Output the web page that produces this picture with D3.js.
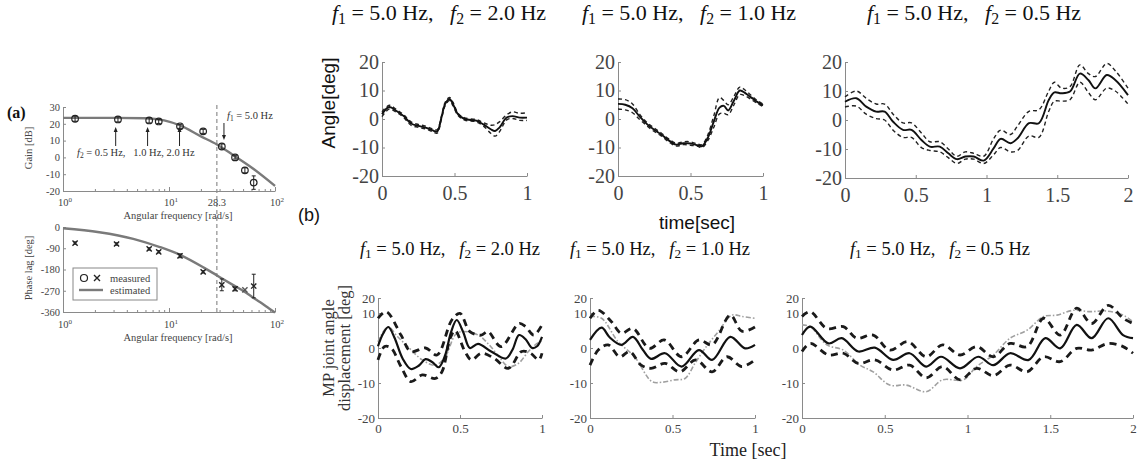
<!DOCTYPE html>
<html>
<head>
<meta charset="utf-8">
<script src="https://cdn.jsdelivr.net/npm/d3@7"></script>
<style>
  body { margin: 0; background: #fff; }
  svg { display: block; }
</style>
</head>
<body>
<svg id="fig" width="1140" height="461"></svg>
<script>
// ---------- panel (a) : Bode plots ----------
var gainW   = [1.3, 3.3, 6.5, 8.0, 12.7, 21, 31.5, 42, 52, 63];
var gainDb  = [23, 22.6, 22, 21.4, 18.5, 15.5, 6.5, 0, -7.7, -15];
var gainErr = [1.5, 1.5, 1.5, 1.2, 1.2, 1.2, 1.5, 1, 1.5, 4];
var estGainW  = [1, 3, 6, 9, 12.7, 20, 28.3, 40, 60, 100];
var estGainDb = [23.5, 23.5, 23.3, 22, 19, 12.5, 7.7, 1.5, -6, -17];

var phaseW   = [1.3, 3.2, 6.5, 8.0, 12.7, 21, 31.5, 42, 52, 63];
var phaseDeg = [-68, -72, -93, -105, -122, -190, -245, -262, -266, -250];
var phaseErr = [5, 5, 5, 5, 8, 5, 25, 8, 0, 50];
var estPhaseW   = [1, 2.2, 4.6, 8.2, 12.7, 21.3, 28.3, 40, 52, 65, 75, 88, 100];
var estPhaseDeg = [-5, -22, -50, -85, -118, -172, -205, -245, -275, -305, -323, -345, -362];

var gainTicks  = [-20, -10, 0, 10, 20, 30];
var phaseTicks = [-360, -270, -180, -90, 0];
var cutoffW = 28.3;

// ---------- panel (b) top row : Angle[deg] ----------
var tTop1   = [0, 0.05, 0.1, 0.15, 0.2, 0.25, 0.3, 0.35, 0.38, 0.41, 0.435, 0.465, 0.49, 0.525, 0.57, 0.65, 0.7, 0.75, 0.78, 0.81, 0.86, 0.9, 0.95, 1.0];
var meanTop1 = [1.7, 4.2, 2.8, 1.0, -1.6, -2.4, -3.0, -4.0, -4.4, 0.5, 5.2, 7.0, 5.2, 1.6, 0.0, -0.6, -1.9, -3.6, -4.2, -3.0, 0.5, 1.0, 0.5, 0.5];
var upTop1   = [2.5, 4.8, 3.3, 1.5, -1.0, -1.9, -2.5, -3.5, -3.8, 1.0, 5.8, 7.6, 5.8, 2.0, 0.4, -0.2, -1.3, -2.2, -2.0, -1.0, 1.5, 2.5, 2.0, 2.2];
var loTop1   = [0.8, 3.5, 2.3, 0.5, -2.2, -2.9, -3.5, -4.5, -5.0, 0.0, 4.6, 6.5, 4.6, 1.2, -0.4, -1.0, -2.5, -5.0, -6.0, -4.5, -0.3, 0.2, -0.5, -0.5];

var tTop2    = [0, 0.05, 0.1, 0.15, 0.2, 0.25, 0.3, 0.35, 0.4, 0.45, 0.5, 0.55, 0.58, 0.62, 0.66, 0.7, 0.73, 0.76, 0.8, 0.84, 0.88, 0.92, 0.96, 1.0];
var meanTop2 = [5.3, 5.0, 3.8, 0.8, -1.8, -3.8, -5.5, -7.5, -9.0, -8.5, -8.6, -9.2, -9.5, -6.5, -1.0, 4.0, 4.6, 3.0, 6.5, 10.0, 9.0, 7.5, 6.0, 4.8];
var upTop2   = [7.0, 6.8, 5.3, 1.6, -1.2, -3.2, -5.0, -7.0, -8.5, -8.0, -8.0, -8.8, -9.0, -5.5, 1.0, 7.5, 6.5, 5.0, 8.0, 11.2, 10.0, 8.2, 6.5, 5.2];
var loTop2   = [3.5, 3.2, 2.2, -0.2, -2.4, -4.4, -6.0, -8.0, -9.5, -9.0, -9.2, -9.6, -10.0, -7.5, -3.0, 1.8, 2.0, 1.5, 5.0, 8.6, 8.0, 6.8, 5.5, 4.3];

var tTop3    = [0, 0.08, 0.15, 0.22, 0.28, 0.34, 0.41, 0.47, 0.54, 0.6, 0.67, 0.73, 0.79, 0.85, 0.91, 0.98, 1.05, 1.1, 1.17, 1.22, 1.3, 1.37, 1.44, 1.48, 1.53, 1.59, 1.66, 1.72, 1.77, 1.85, 1.91, 2.0];
var meanTop3 = [6.3, 7.5, 4.6, 2.9, 2.9, -0.6, -3.4, -3.4, -6.9, -9.2, -9.2, -11.5, -13.5, -12.6, -12.6, -14.0, -9.8, -6.5, -8.0, -6.3, -1.1, -1.1, 6.9, 9.5, 9.2, 9.8, 16.0, 13.8, 10.9, 15.5, 13.8, 8.6];
var upTop3   = [8.0, 10.0, 7.5, 5.5, 5.5, 2.0, -1.0, -1.0, -4.5, -7.5, -7.5, -10.0, -12.5, -11.0, -11.5, -12.5, -6.5, -3.5, -5.0, -2.0, 3.0, 3.5, 10.0, 13.0, 11.0, 11.5, 19.0, 16.0, 15.0, 19.5, 17.0, 11.0];
var loTop3   = [4.5, 4.8, 2.0, 0.5, 0.0, -3.5, -6.0, -6.0, -9.5, -10.5, -11.0, -13.0, -15.0, -13.5, -13.5, -15.0, -12.0, -9.5, -11.0, -10.5, -5.5, -6.0, 3.0, 6.5, 6.5, 7.0, 13.0, 9.5, 7.0, 11.0, 10.0, 5.5];

// ---------- panel (b) bottom row : MP joint angle displacement ----------
var tMean4 = [0, 0.03, 0.063, 0.1, 0.15, 0.2, 0.25, 0.29, 0.33, 0.37, 0.41, 0.445, 0.48, 0.52, 0.56, 0.61, 0.69, 0.78, 0.82, 0.86, 0.9, 0.94, 0.97, 1.0];
var mean4  = [0.5, 4.0, 6.0, 3.0, -3.0, -6.0, -5.0, -3.2, -4.0, -5.5, -2.0, 4.5, 8.0, 4.5, 0.0, 1.2, -1.0, -3.0, -0.5, 3.7, 2.5, 0.0, 0.5, 3.2];
var tUp4   = [0, 0.05, 0.14, 0.2, 0.29, 0.36, 0.45, 0.5, 0.56, 0.63, 0.67, 0.75, 0.86, 0.9, 0.95, 1.0];
var up4    = [8.5, 10.9, 3.7, -1.0, 0.0, -2.0, 8.0, 9.9, 4.7, 3.7, 4.7, 0.4, 7.0, 6.1, 3.7, 6.6];
var tLo4   = [0, 0.04, 0.08, 0.14, 0.2, 0.27, 0.35, 0.39, 0.44, 0.47, 0.53, 0.57, 0.63, 0.71, 0.795, 0.876, 0.93, 0.98, 1.0];
var lo4    = [-3.4, 0.4, 0.0, -5.3, -9.6, -7.7, -8.7, -6.8, 2.8, 5.0, -1.0, -3.4, -1.5, -3.0, -5.8, -1.0, -1.5, -3.4, -1.5];
var tRef4  = [0, 0.06, 0.12, 0.19, 0.27, 0.35, 0.41, 0.47, 0.51, 0.61, 0.67, 0.73, 0.795, 0.856, 0.917, 0.97, 1.0];
var ref4   = [1.8, 6.0, 3.2, 0.0, -3.4, -4.9, -2.5, 3.7, 4.7, 3.7, 1.3, -2.0, -5.3, -4.4, -1.0, 1.3, 2.0];

var tMean5 = [0, 0.07, 0.12, 0.19, 0.26, 0.32, 0.37, 0.455, 0.555, 0.66, 0.74, 0.85, 0.94, 1.0];
var mean5  = [2.3, 5.8, 3.0, 0.9, 3.2, -0.5, -3.1, -1.5, -5.3, -0.6, -3.4, 3.2, -0.1, 0.9];
var tUp5   = [0, 0.05, 0.13, 0.19, 0.26, 0.36, 0.45, 0.555, 0.66, 0.74, 0.85, 0.92, 1.0];
var up5    = [8.5, 11.8, 7.5, 4.2, 5.6, -0.1, 2.3, -2.5, 2.3, 0.9, 9.4, 4.8, 6.0];
var tLo5   = [0, 0.05, 0.11, 0.18, 0.24, 0.31, 0.37, 0.455, 0.545, 0.64, 0.74, 0.83, 0.92, 1.0];
var lo5    = [-4.9, -0.6, 0.9, -2.5, -1.0, -4.9, -5.8, -4.4, -6.8, -3.4, -6.8, -2.5, -5.3, -3.4];
var tRef5  = [0, 0.07, 0.17, 0.27, 0.375, 0.434, 0.515, 0.576, 0.636, 0.697, 0.778, 0.86, 0.92, 1.0];
var ref5   = [9.0, 8.5, 1.8, -2.5, -9.6, -9.8, -9.1, -8.7, -4.4, -0.1, 4.7, 9.4, 9.0, 8.5];

var tMean6 = [0, 0.05, 0.16, 0.24, 0.34, 0.44, 0.55, 0.65, 0.75, 0.84, 0.955, 1.065, 1.156, 1.257, 1.37, 1.47, 1.56, 1.66, 1.75, 1.85, 1.94, 2.0];
var mean6  = [3.7, 6.1, 1.3, 2.8, -1.0, 0.1, -3.4, -1.5, -5.3, -2.5, -5.8, -2.5, -4.9, -1.5, -3.4, 2.8, -0.1, 6.6, 2.8, 8.5, 3.7, 2.8];
var tUp6   = [0, 0.05, 0.15, 0.25, 0.33, 0.43, 0.53, 0.64, 0.75, 0.85, 0.955, 1.055, 1.156, 1.257, 1.36, 1.46, 1.56, 1.66, 1.75, 1.85, 1.94, 2.0];
var up6    = [9.0, 10.9, 5.6, 6.1, 2.8, 3.7, -0.6, 1.8, -2.5, 0.9, -2.0, 0.4, -2.5, 1.3, 0.4, 8.5, 3.7, 13.2, 7.0, 15.1, 8.5, 7.0];
var tLo6   = [0, 0.05, 0.16, 0.25, 0.34, 0.44, 0.55, 0.65, 0.75, 0.85, 0.955, 1.055, 1.156, 1.257, 1.36, 1.46, 1.56, 1.66, 1.75, 1.85, 1.94, 2.0];
var lo6    = [-1.0, 1.3, -2.0, -1.5, -4.4, -3.4, -6.3, -4.9, -8.5, -5.3, -9.1, -5.8, -7.9, -4.9, -6.8, -2.5, -3.9, -0.1, -0.6, 1.3, 0.4, -1.5];
var tRef6  = [0, 0.05, 0.15, 0.25, 0.35, 0.43, 0.53, 0.63, 0.75, 0.85, 0.975, 1.055, 1.156, 1.257, 1.36, 1.46, 1.54, 1.64, 1.74, 1.84, 1.94, 2.0];
var ref6   = [6.6, 6.1, 0.9, -0.6, -4.9, -6.8, -10.6, -10.6, -12.5, -9.1, -9.1, -5.3, -2.0, 2.8, 5.1, 9.0, 9.4, 11.8, 10.9, 11.3, 9.4, 7.5];

var angleTicks = [-20, -10, 0, 10, 20];
var timeTicks1 = [0, 0.5, 1];
var timeTicks2 = [0, 0.5, 1, 1.5, 2];
var f2Labels = ['2.0', '1.0', '0.5'];

var SERIF = '"Liberation Serif","Times New Roman",serif';
var SANS = '"Liberation Sans",Arial,sans-serif';
var AXIS_GREY = '#8a8a8a';

var svg = d3.select('#fig');

function zip(ts, vs) {
    return ts.map(function(t, i) { return [t, vs[i]]; });
}

// ================= panel (a) =================
var xa = d3.scaleLog().domain([1, 100]).range([63, 275]);
var yGain = d3.scaleLinear().domain([-20, 30]).range([191, 107]);
var yPhase = d3.scaleLinear().domain([-360, 0]).range([312, 227]);

function logAxis(g, yPos, labelY) {
    var ax = g.append('g').attr('transform', 'translate(0,' + yPos + ')')
        .call(d3.axisBottom(xa).tickValues(xa.ticks()).tickFormat('').tickSizeInner(-2).tickSizeOuter(0));
    ax.select('.domain').attr('stroke', AXIS_GREY);
    ax.selectAll('.tick line').attr('stroke', AXIS_GREY)
        .attr('y2', function(d) { return [1, 10, 100].indexOf(d) >= 0 ? -4 : -2; });
    [0, 1, 2].forEach(function(p) {
        var t = g.append('text').attr('x', xa(Math.pow(10, p)) + 2).attr('y', labelY)
            .attr('text-anchor', 'middle').attr('font-family', SERIF).attr('font-size', 10.5).attr('fill', '#444');
        t.append('tspan').text('10');
        t.append('tspan').attr('dy', -4).attr('font-size', 7).text(p);
    });
}

function leftAxis(g, scale, ticks) {
    var ax = g.append('g').attr('transform', 'translate(63,0)')
        .call(d3.axisLeft(scale).tickValues(ticks).tickSizeInner(-3).tickSizeOuter(0).tickPadding(3)
            .tickFormat(function(d) { return String(d); }));
    ax.select('.domain').attr('stroke', AXIS_GREY);
    ax.selectAll('.tick line').attr('stroke', AXIS_GREY);
    ax.selectAll('text').attr('font-family', SERIF).attr('font-size', 10.5).attr('fill', '#444');
}

var ga = svg.append('g');

// cut-off frequency marker
ga.append('line').attr('x1', xa(cutoffW)).attr('x2', xa(cutoffW)).attr('y1', 105).attr('y2', 312)
    .attr('stroke', '#777').attr('stroke-width', 1).attr('stroke-dasharray', '4,3');

leftAxis(ga, yGain, gainTicks);
logAxis(ga, 191, 206);
leftAxis(ga, yPhase, phaseTicks);
logAxis(ga, 312, 328);

ga.append('text').attr('x', xa(cutoffW)).attr('y', 206).attr('text-anchor', 'middle')
    .attr('font-family', SERIF).attr('font-size', 10.5).attr('fill', '#444').text('28.3');

// axis titles
[[219, 'Angular frequency [rad/s]'], [341, 'Angular frequency [rad/s]']].forEach(function(d) {
    ga.append('text').attr('x', 178).attr('y', d[0]).attr('text-anchor', 'middle')
        .attr('font-family', SERIF).attr('font-size', 10.5).attr('fill', '#444').text(d[1]);
});
[[148, 'Gain [dB]'], [268, 'Phase lag [deg]']].forEach(function(d) {
    ga.append('text').attr('transform', 'translate(32,' + d[0] + ') rotate(-90)').attr('text-anchor', 'middle')
        .attr('font-family', SERIF).attr('font-size', 10.5).attr('fill', '#444').text(d[1]);
});

// estimated curves
var gainLine = d3.line().x(function(d) { return xa(d[0]); }).y(function(d) { return yGain(d[1]); }).curve(d3.curveMonotoneX);
var phaseLine = d3.line().x(function(d) { return xa(d[0]); }).y(function(d) { return yPhase(d[1]); }).curve(d3.curveMonotoneX);
ga.append('path').attr('d', gainLine(zip(estGainW, estGainDb)))
    .attr('fill', 'none').attr('stroke', '#7a7a7a').attr('stroke-width', 2.4);
ga.append('path').attr('d', phaseLine(zip(estPhaseW, estPhaseDeg)))
    .attr('fill', 'none').attr('stroke', '#7a7a7a').attr('stroke-width', 2.4);

// measured gain: circles with error bars
gainW.forEach(function(w, i) {
    var cx = xa(w);
    var lo = yGain(gainDb[i] - gainErr[i]), hi = yGain(gainDb[i] + gainErr[i]);
    ga.append('line').attr('x1', cx).attr('x2', cx).attr('y1', lo).attr('y2', hi).attr('stroke', '#222').attr('stroke-width', 1);
    ga.append('line').attr('x1', cx - 2).attr('x2', cx + 2).attr('y1', lo).attr('y2', lo).attr('stroke', '#222').attr('stroke-width', 1);
    ga.append('line').attr('x1', cx - 2).attr('x2', cx + 2).attr('y1', hi).attr('y2', hi).attr('stroke', '#222').attr('stroke-width', 1);
    ga.append('circle').attr('cx', cx).attr('cy', yGain(gainDb[i])).attr('r', 3.3)
        .attr('fill', 'none').attr('stroke', '#222').attr('stroke-width', 1.2);
});

// measured phase: crosses with error bars
function cross(g, cx, cy, s, col) {
    g.append('path').attr('d', 'M' + (cx - s) + ',' + (cy - s) + 'L' + (cx + s) + ',' + (cy + s) + 'M' + (cx - s) + ',' + (cy + s) + 'L' + (cx + s) + ',' + (cy - s))
        .attr('stroke', col).attr('stroke-width', 1.4).attr('fill', 'none');
}
phaseW.forEach(function(w, i) {
    var cx = xa(w);
    if (phaseErr[i] > 0) {
        var lo = yPhase(phaseDeg[i] - phaseErr[i]), hi = yPhase(phaseDeg[i] + phaseErr[i]);
        ga.append('line').attr('x1', cx).attr('x2', cx).attr('y1', lo).attr('y2', hi).attr('stroke', '#222').attr('stroke-width', 1);
        ga.append('line').attr('x1', cx - 2).attr('x2', cx + 2).attr('y1', lo).attr('y2', lo).attr('stroke', '#222').attr('stroke-width', 1);
        ga.append('line').attr('x1', cx - 2).attr('x2', cx + 2).attr('y1', hi).attr('y2', hi).attr('stroke', '#222').attr('stroke-width', 1);
    }
    cross(ga, cx, yPhase(phaseDeg[i]), 2.6, phaseErr[i] > 0 ? '#222' : '#555');
});

// legend
ga.append('rect').attr('x', 73).attr('y', 268).attr('width', 84).attr('height', 32)
    .attr('fill', '#fff').attr('stroke', '#888').attr('stroke-width', 1);
ga.append('circle').attr('cx', 84).attr('cy', 278).attr('r', 3.5).attr('fill', 'none').attr('stroke', '#222').attr('stroke-width', 1.2);
cross(ga, 97, 278, 3, '#222');
ga.append('line').attr('x1', 79).attr('x2', 103).attr('y1', 290).attr('y2', 290).attr('stroke', '#7a7a7a').attr('stroke-width', 2.4);
[[281.5, 'measured'], [294, 'estimated']].forEach(function(d) {
    ga.append('text').attr('x', 110).attr('y', d[0]).attr('font-family', SERIF).attr('font-size', 10.5)
        .attr('fill', '#444').text(d[1]);
});

// arrows and frequency annotations
function arrow(g, x, yTail, yHead) {
    var dir = yHead < yTail ? 1 : -1;
    g.append('line').attr('x1', x).attr('x2', x).attr('y1', yTail).attr('y2', yHead + dir * 3)
        .attr('stroke', '#222').attr('stroke-width', 1);
    g.append('path').attr('d', 'M' + x + ',' + yHead + 'L' + (x - 2) + ',' + (yHead + dir * 5) + 'L' + (x + 2) + ',' + (yHead + dir * 5) + 'Z')
        .attr('fill', '#222');
}
[3.14, 6.28, 12.57].forEach(function(w) { arrow(ga, xa(w), 146, 127); });
arrow(ga, xa(33), 123, 140);

var f2t = ga.append('text').attr('x', 77).attr('y', 156).attr('font-family', SERIF).attr('font-size', 10.5).attr('fill', '#333');
f2t.append('tspan').attr('font-style', 'italic').text('f');
f2t.append('tspan').attr('font-size', 7.5).attr('dy', 2).text('2');
f2t.append('tspan').attr('dy', -2).text(' = 0.5 Hz,\u00a0\u00a0 1.0 Hz, 2.0 Hz');

var f1t = ga.append('text').attr('x', 227).attr('y', 119).attr('font-family', SERIF).attr('font-size', 10.5).attr('fill', '#333');
f1t.append('tspan').attr('font-style', 'italic').text('f');
f1t.append('tspan').attr('font-size', 7.5).attr('dy', 2).text('1');
f1t.append('tspan').attr('dy', -2).text(' = 5.0 Hz');

ga.append('text').attr('x', 7).attr('y', 118).attr('font-family', SERIF).attr('font-size', 16)
    .attr('font-weight', 'bold').attr('fill', '#111').text('(a)');

// ================= panel (b) =================
function freqTitle(cx, cy, size, f2) {
    var t = svg.append('text').attr('x', cx).attr('y', cy).attr('text-anchor', 'middle')
        .attr('font-family', SERIF).attr('font-size', size).attr('fill', '#111');
    t.append('tspan').attr('font-style', 'italic').text('f');
    t.append('tspan').attr('font-size', size * 0.72).attr('dy', size * 0.18).text('1');
    t.append('tspan').attr('dy', -size * 0.18).text(' = 5.0 Hz,\u00a0\u00a0 ');
    t.append('tspan').attr('font-style', 'italic').text('f');
    t.append('tspan').attr('font-size', size * 0.72).attr('dy', size * 0.18).text('2');
    t.append('tspan').attr('dy', -size * 0.18).text(' = ' + f2 + ' Hz');
}

function timePanel(opt) {
    var x = d3.scaleLinear().domain([0, opt.tMax]).range([opt.x0, opt.x1]);
    var y = opt.y;
    var g = svg.append('g');
    var fmt = function(d) { return String(d); };

    var ax = g.append('g').attr('transform', 'translate(0,' + y(-20) + ')')
        .call(d3.axisBottom(x).tickValues(opt.tMax === 1 ? timeTicks1 : timeTicks2)
            .tickSizeInner(-3).tickSizeOuter(0).tickPadding(opt.xPad).tickFormat(fmt));
    var ay = g.append('g').attr('transform', 'translate(' + opt.x0 + ',0)')
        .call(d3.axisLeft(y).tickValues(angleTicks).tickSizeInner(-3).tickSizeOuter(0).tickPadding(3).tickFormat(fmt));
    [ax, ay].forEach(function(a) {
        a.select('.domain').attr('stroke', AXIS_GREY);
        a.selectAll('.tick line').attr('stroke', AXIS_GREY);
        a.selectAll('text').attr('font-family', SERIF).attr('font-size', opt.tickSize).attr('fill', '#444');
    });

    var line = d3.line().x(function(d) { return x(d[0]); }).y(function(d) { return y(d[1]); })
        .curve(d3.curveCatmullRom.alpha(0.5));
    opt.series.forEach(function(s) {
        g.append('path').attr('d', line(s.pts)).attr('fill', 'none')
            .attr('stroke', s.color).attr('stroke-width', s.width)
            .attr('stroke-dasharray', s.dash || null).attr('stroke-linejoin', 'round');
    });
}

var yTop = d3.scaleLinear().domain([-20, 20]).range([176, 62]);
var yTop3 = d3.scaleLinear().domain([-20, 20]).range([178, 62]);
var yBottom = d3.scaleLinear().domain([-20, 10, 20]).range([418, 313, 298]);

function topSeries(ts, m, u, l) {
    return [
        { pts: zip(ts, u), color: '#222', width: 1.4, dash: '4,3' },
        { pts: zip(ts, l), color: '#222', width: 1.4, dash: '4,3' },
        { pts: zip(ts, m), color: '#111', width: 1.9 }
    ];
}
function bottomSeries(r, u, l, m) {
    return [
        { pts: r, color: '#a0a0a0', width: 1.6, dash: '5,2,1.5,2' },
        { pts: u, color: '#1a1a1a', width: 2.8, dash: '7,5' },
        { pts: l, color: '#1a1a1a', width: 2.8, dash: '7,5' },
        { pts: m, color: '#111', width: 2.2 }
    ];
}

timePanel({ x0: 382, x1: 527, tMax: 1, y: yTop, xPad: 10, tickSize: 20,
    series: topSeries(tTop1, meanTop1, upTop1, loTop1) });
timePanel({ x0: 618, x1: 763, tMax: 1, y: yTop, xPad: 10, tickSize: 20,
    series: topSeries(tTop2, meanTop2, upTop2, loTop2) });
timePanel({ x0: 845, x1: 1128, tMax: 2, y: yTop3, xPad: 10, tickSize: 20,
    series: topSeries(tTop3, meanTop3, upTop3, loTop3) });

timePanel({ x0: 378, x1: 542, tMax: 1, y: yBottom, xPad: 6, tickSize: 13,
    series: bottomSeries(zip(tRef4, ref4), zip(tUp4, up4), zip(tLo4, lo4), zip(tMean4, mean4)) });
timePanel({ x0: 590, x1: 755, tMax: 1, y: yBottom, xPad: 6, tickSize: 13,
    series: bottomSeries(zip(tRef5, ref5), zip(tUp5, up5), zip(tLo5, lo5), zip(tMean5, mean5)) });
timePanel({ x0: 802, x1: 1133, tMax: 2, y: yBottom, xPad: 6, tickSize: 13,
    series: bottomSeries(zip(tRef6, ref6), zip(tUp6, up6), zip(tLo6, lo6), zip(tMean6, mean6)) });

// titles
freqTitle(439, 20, 22, f2Labels[0]);
freqTitle(689, 20, 22, f2Labels[1]);
freqTitle(974, 20, 22, f2Labels[2]);
freqTitle(450, 255, 18.5, f2Labels[0]);
freqTitle(660, 255, 18.5, f2Labels[1]);
freqTitle(940, 255, 18.5, f2Labels[2]);

// axis titles for (b)
svg.append('text').attr('transform', 'translate(335,103) rotate(-90)').attr('text-anchor', 'middle')
    .attr('font-family', SANS).attr('font-size', 19).attr('fill', '#111').text('Angle[deg]');
svg.append('text').attr('x', 697).attr('y', 229).attr('text-anchor', 'middle')
    .attr('font-family', SANS).attr('font-size', 19).attr('fill', '#111').text('time[sec]');
svg.append('text').attr('x', 298).attr('y', 221).attr('font-family', SANS).attr('font-size', 18)
    .attr('fill', '#111').text('(b)');

var mp = svg.append('text').attr('transform', 'translate(334,348) rotate(-90)').attr('text-anchor', 'middle')
    .attr('font-family', SERIF).attr('font-size', 16.5).attr('fill', '#333');
mp.append('tspan').attr('x', 0).attr('dy', 0).text('MP joint angle');
mp.append('tspan').attr('x', 0).attr('dy', 16).text('displacement [deg]');

svg.append('text').attr('x', 748).attr('y', 456).attr('text-anchor', 'middle')
    .attr('font-family', SERIF).attr('font-size', 18).attr('fill', '#222').text('Time [sec]');
</script>
</body>
</html>
